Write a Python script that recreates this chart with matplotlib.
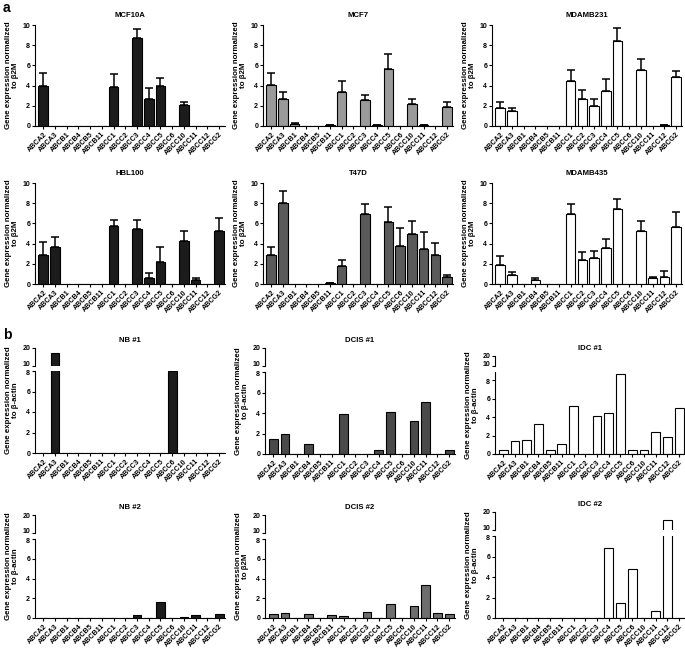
import numpy as np
import matplotlib.pyplot as plt
import matplotlib.transforms as mtransforms

plt.rcParams['font.family'] = ['Liberation Sans', 'DejaVu Sans']
plt.rcParams['font.weight'] = 'bold'

genes = ["ABCA2", "ABCA3", "ABCB1", "ABCB4", "ABCB5", "ABCB11", "ABCC1", "ABCC2",
         "ABCC3", "ABCC4", "ABCC5", "ABCC6", "ABCC10", "ABCC11", "ABCC12", "ABCG2"]

# section a: cell lines (mean, error)
mcf10a = [3.94, 0, 0, 0, 0, 0, 3.87, 0, 8.68, 2.72, 3.97, 0, 2.12, 0, 0, 0]
mcf10a_err = [1.33, 0, 0, 0, 0, 0, 1.23, 0, 0.92, 1.05, 0.8, 0, 0.26, 0, 0, 0]
mcf7 = [4.03, 2.68, 0.17, 0, 0, 0.05, 3.36, 0, 2.62, 0.05, 5.64, 0, 2.18, 0.05, 0, 1.85]
mcf7_err = [1.24, 0.68, 0.13, 0, 0, 0.02, 1.07, 0, 0.47, 0.02, 1.47, 0, 0.5, 0.02, 0, 0.5]
mdamb231 = [1.8, 1.47, 0, 0, 0, 0, 4.5, 2.67, 1.97, 3.5, 8.4, 0, 5.57, 0, 0.05, 4.83]
mdamb231_err = [0.6, 0.36, 0, 0, 0, 0, 1.03, 0.9, 0.73, 1.17, 1.33, 0, 1.1, 0, 0.02, 0.64]
hbl100 = [2.89, 3.69, 0, 0, 0, 0, 5.7, 0, 5.4, 0.6, 2.18, 0, 4.3, 0.44, 0, 5.2]
hbl100_err = [1.3, 0.94, 0, 0, 0, 0, 0.68, 0, 0.91, 0.44, 1.51, 0, 0.93, 0.16, 0, 1.34]
t47d = [2.83, 8.0, 0, 0, 0, 0.05, 1.83, 0, 6.9, 0, 6.17, 3.73, 5.0, 3.43, 2.83, 0.67]
t47d_err = [0.84, 1.23, 0, 0, 0, 0.02, 0.5, 0, 1.0, 0, 1.43, 1.84, 1.27, 1.74, 1.24, 0.26]
mdamb435 = [1.93, 0.9, 0, 0.43, 0, 0, 6.9, 2.4, 2.53, 3.57, 7.47, 0, 5.23, 0.6, 0.67, 5.6]
mdamb435_err = [0.8, 0.27, 0, 0.14, 0, 0, 1.03, 0.77, 0.74, 0.93, 0.93, 0, 1.0, 0.13, 0.6, 1.5]

# section b: patient samples
nb1 = [0, 17.5, 0, 0, 0, 0, 0, 0, 0, 0, 0, 8.0, 0, 0, 0, 0]
dcis1 = [1.46, 1.94, 0, 0.94, 0, 0, 3.88, 0, 0, 0.36, 4.11, 0, 3.24, 5.08, 0, 0.36]
idc1 = [0.4, 1.44, 1.48, 3.24, 0.43, 1.05, 5.19, 0, 4.1, 4.43, 8.72, 0.47, 0.47, 2.38, 1.84, 4.97]
nb2 = [0, 0, 0, 0, 0, 0, 0, 0, 0.34, 0, 1.61, 0, 0.13, 0.3, 0, 0.4]
dcis2 = [0.4, 0.5, 0, 0.37, 0, 0.3, 0.2, 0, 0.6, 0, 1.38, 0, 1.21, 3.33, 0.54, 0.37]
idc2 = [0, 0, 0, 0, 0, 0, 0, 0, 0, 6.83, 1.5, 4.75, 0, 0.65, 15.7, 0]

fig = plt.figure(figsize=(6.85, 6.5), dpi=100)
W, H = 685, 650


def box(x, ytop, w, h):
    return [x / W, 1 - (ytop + h) / H, w / W, h / H]


x = np.arange(len(genes))
lw = 0.8


def style(ax):
    for s in ['top', 'right']:
        ax.spines[s].set_visible(False)
    for s in ['left', 'bottom']:
        ax.spines[s].set_linewidth(lw)
    ax.tick_params(axis='both', width=lw, length=2.5, pad=1)
    ax.tick_params(axis='y', labelsize=5)
    ax.set_xlim(-0.7, 15.5)


def xlabels(ax):
    ax.set_xticks(x)
    ax.set_xticklabels(genes, rotation=45, ha='right', rotation_mode='anchor',
                       fontsize=5.1, fontweight='bold')


def ylab(x0, yc, txt):
    fig.text((x0 - 23) / W, 1 - yc / H, txt, rotation=90, ha='center', va='center',
             fontsize=5.7, fontweight='bold', multialignment='center', linespacing=1.05)


def panel_a(x0, ytop, vals, err, color, title):
    ax = fig.add_axes(box(x0, ytop, 190, 101))
    v = np.array(vals)
    e = np.array(err)
    ax.bar(x, v, width=0.82, color=color, edgecolor='black', linewidth=lw, zorder=2)
    m = v > 0
    ax.errorbar(x[m], v[m], yerr=[np.zeros(m.sum()), e[m]], fmt='none', ecolor='black',
                elinewidth=1.1, capsize=2.6, capthick=1.1, zorder=3)
    ax.set_ylim(0, 10)
    ax.set_yticks([0, 2, 4, 6, 8, 10])
    style(ax)
    xlabels(ax)
    ax.set_title(title, fontsize=5.6, fontweight='bold', pad=6)
    ylab(x0, ytop + 50, "Gene expression normalized\nto \u03b22M")


def panel_b(x0, y20, y10, y8, y0, top, vals, color, title, ref):
    axu = fig.add_axes(box(x0, y20, 190, y10 - y20))
    axl = fig.add_axes(box(x0, y8, 190, y0 - y8))
    for ax in (axu, axl):
        ax.bar(x, vals, width=0.75, color=color, edgecolor='black', linewidth=lw, zorder=2)
        style(ax)
    axu.set_ylim(10, 20)
    axu.set_yticks([10, 20])
    axu.spines['bottom'].set_visible(False)
    axu.set_xticks([])
    axl.set_ylim(0, top)
    axl.set_yticks([0, 2, 4, 6, 8])
    xlabels(axl)
    # nudge the "10" and "8" labels apart around the break
    up = mtransforms.ScaledTranslation(0, 1.5 / 72, fig.dpi_scale_trans)
    dn = mtransforms.ScaledTranslation(0, -1.0 / 72, fig.dpi_scale_trans)
    lab10 = axu.get_yticklabels()[0]
    lab10.set_transform(lab10.get_transform() + up)
    lab8 = axl.get_yticklabels()[-1]
    lab8.set_transform(lab8.get_transform() + dn)
    axu.set_title(title, fontsize=5.6, fontweight='bold', pad=4)
    ylab(x0, (y20 + y0) / 2, "Gene expression normalized\nto " + ref)


lefts = [35, 263, 492]
panel_a(lefts[0], 25, mcf10a, mcf10a_err, '#1c1c1c', 'MCF10A')
panel_a(lefts[1], 25, mcf7, mcf7_err, '#9a9a9a', 'MCF7')
panel_a(lefts[2], 25, mdamb231, mdamb231_err, 'white', 'MDAMB231')
panel_a(lefts[0], 183, hbl100, hbl100_err, '#1c1c1c', 'HBL100')
panel_a(lefts[1], 183, t47d, t47d_err, '#5a5a5a', 'T47D')
panel_a(lefts[2], 183, mdamb435, mdamb435_err, 'white', 'MDAMB435')

panel_b(lefts[0], 348, 366, 371, 453, 8, nb1, '#1c1c1c', 'NB #1', '\u03b2-actin')
panel_b(lefts[1] + 2, 348, 366, 372, 454, 8, dcis1, '#4a4a4a', 'DCIS #1', '\u03b2-actin')
panel_b(lefts[2] + 3, 356, 366, 372, 454, 8.9, idc1, 'white', 'IDC #1', '\u03b2-actin')
panel_b(lefts[0], 515, 533, 539, 618, 8, nb2, '#1c1c1c', 'NB #2', '\u03b2-actin')
panel_b(lefts[1] + 2, 515, 533, 539, 618, 8, dcis2, '#6e6e6e', 'DCIS #2', '\u03b22M')
panel_b(lefts[2] + 3, 512, 530, 536, 618, 8, idc2, 'white', 'IDC #2', '\u03b2-actin')

fig.text(3 / W, 1 - 8 / H, 'a', fontsize=10, fontweight='bold', va='center')
fig.text(3 / W, 1 - 335 / H, 'b', fontsize=10, fontweight='bold', va='center')

fig.savefig('out.png', dpi=100)
